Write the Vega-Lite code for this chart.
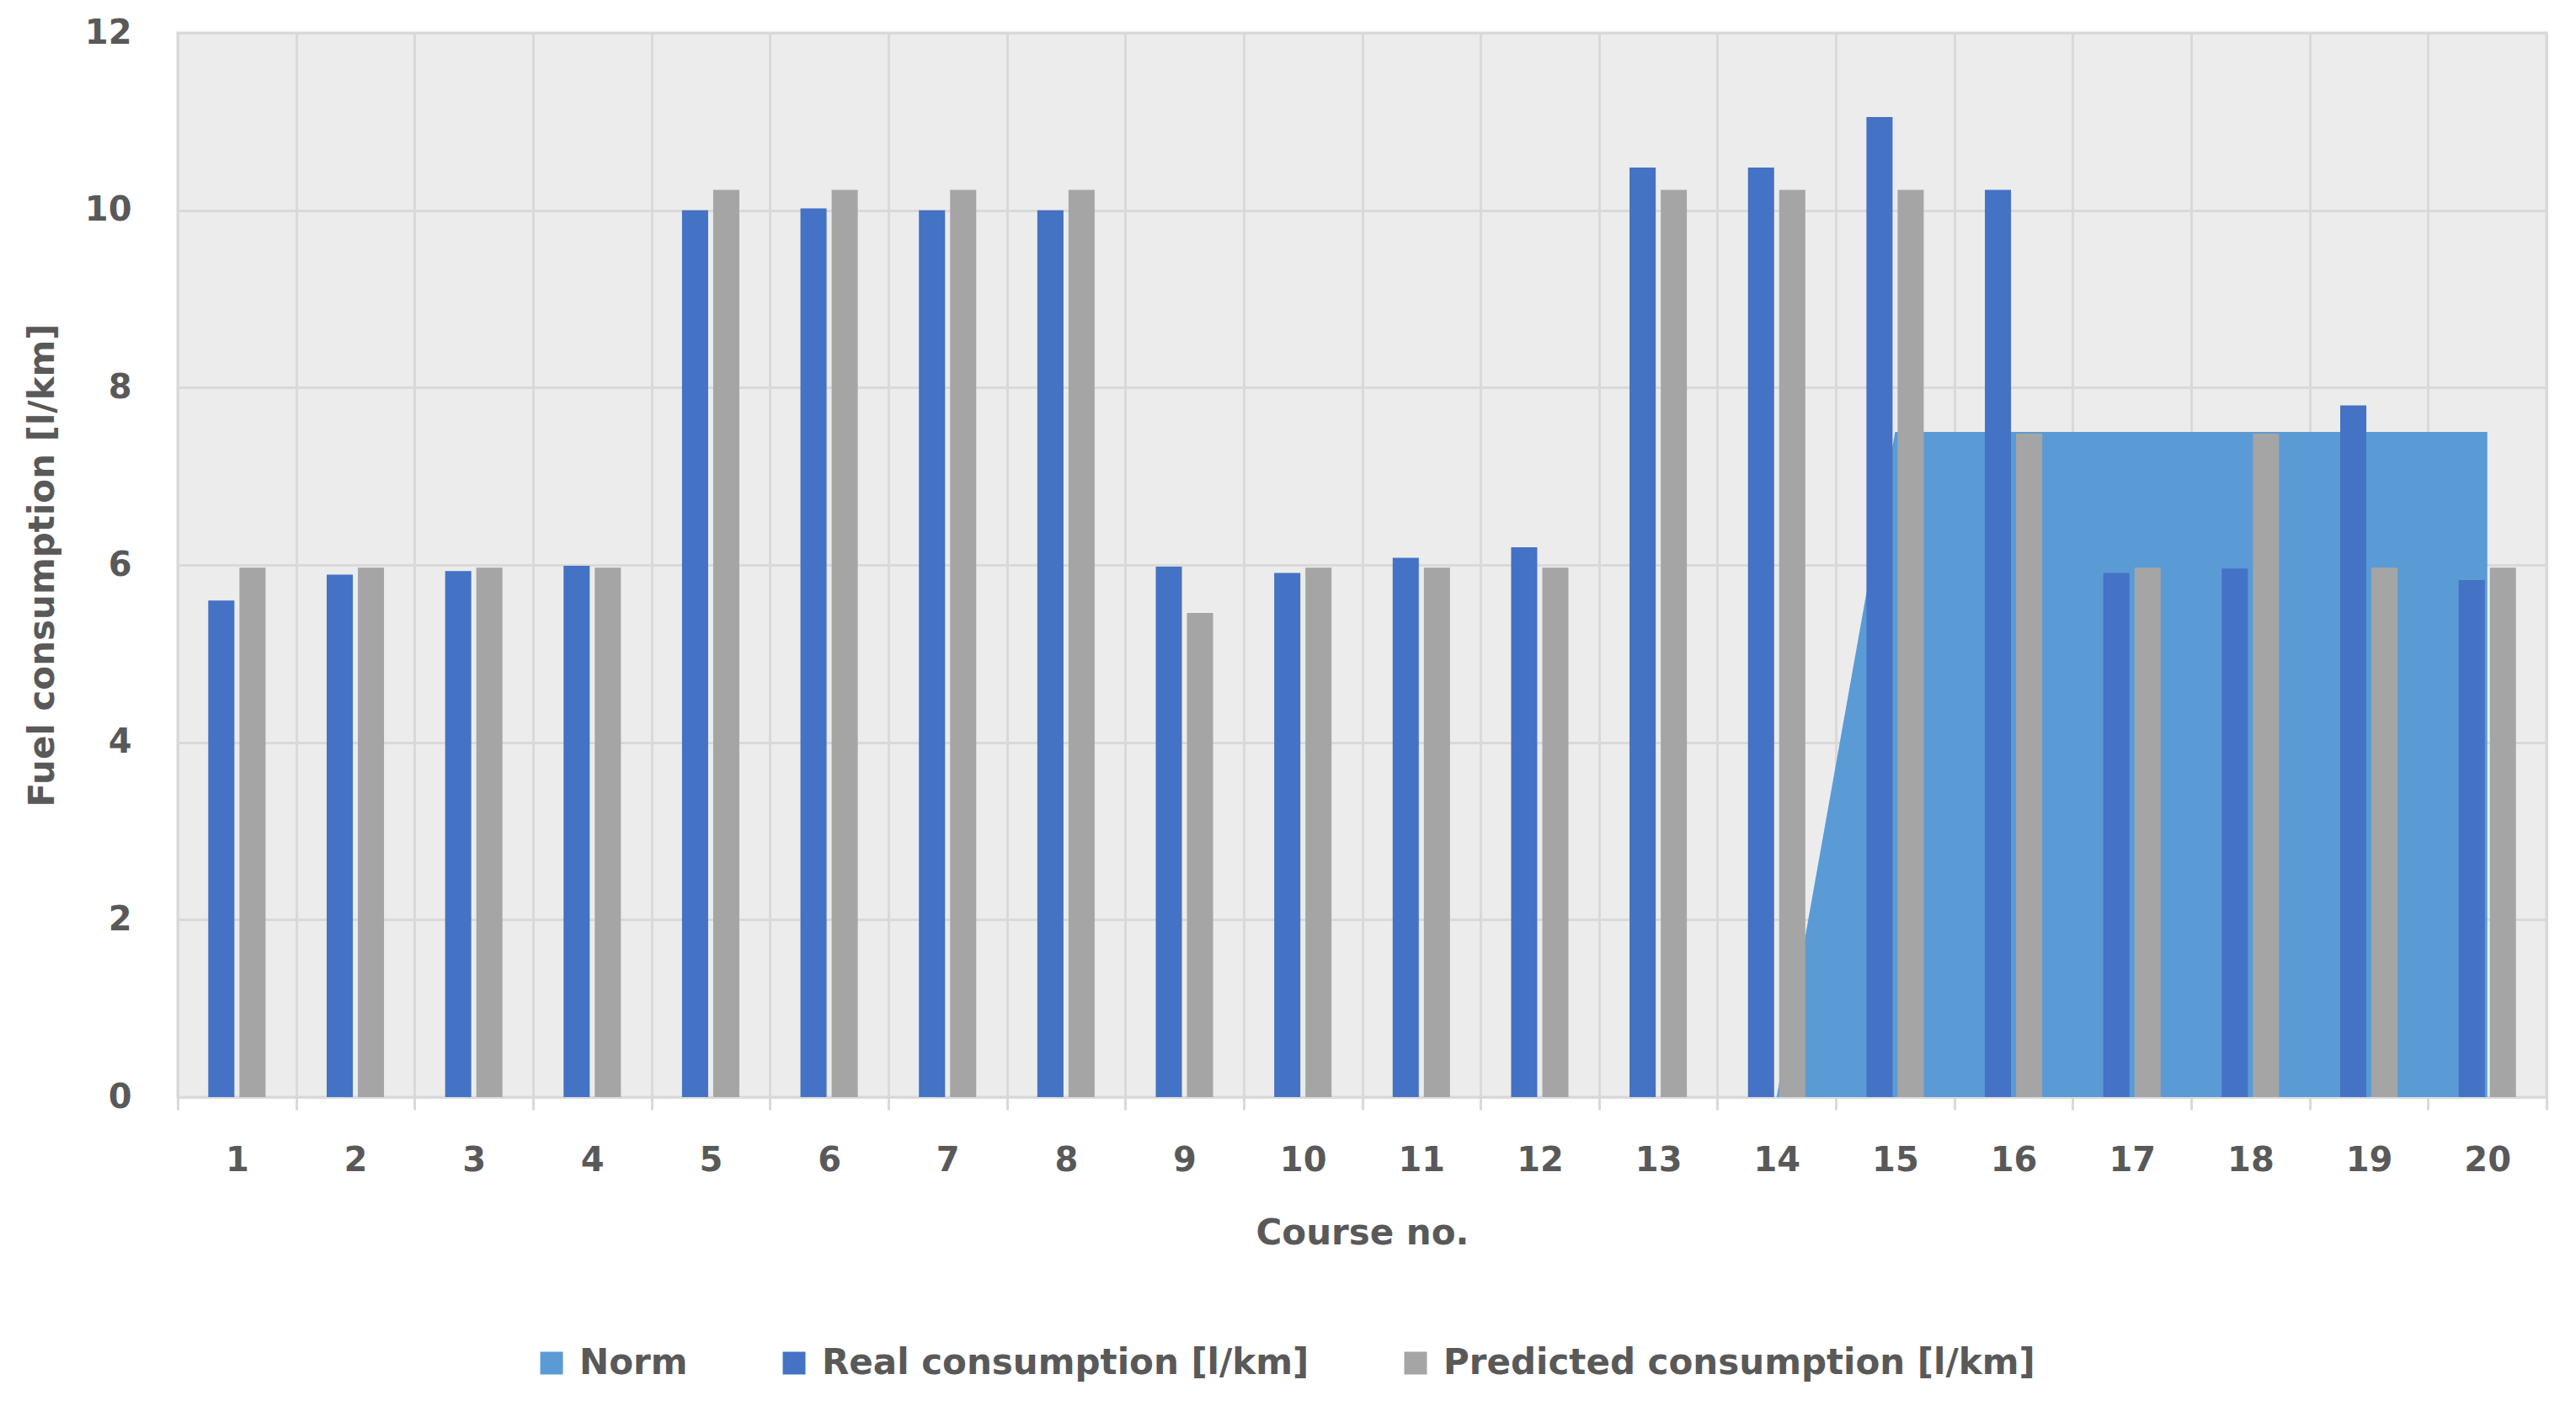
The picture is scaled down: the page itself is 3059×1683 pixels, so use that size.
{
  "$schema": "https://vega.github.io/schema/vega-lite/v6.json",
  "autosize": "none",
  "width": 2813,
  "height": 1264,
  "padding": {"left": 211, "top": 39, "right": 35, "bottom": 380},
  "background": "white",
  "config": {
    "font": "DejaVu Sans",
    "view": {"fill": "#ECECEC", "stroke": "#D9D9D9", "strokeWidth": 3},
    "axis": {
      "labelFont": "DejaVu Sans",
      "labelFontWeight": "bold",
      "labelFontSize": 40,
      "labelColor": "#595959",
      "titleFont": "DejaVu Sans",
      "titleFontWeight": "bold",
      "titleFontSize": 42,
      "titleColor": "#595959",
      "gridColor": "#D9D9D9",
      "gridWidth": 3
    }
  },
  "data": {
    "values": [
      {"course": 1, "series": "Real consumption [l/km]", "value": 5.6},
      {"course": 1, "series": "Predicted consumption [l/km]", "value": 5.97},
      {"course": 2, "series": "Real consumption [l/km]", "value": 5.89},
      {"course": 2, "series": "Predicted consumption [l/km]", "value": 5.97},
      {"course": 3, "series": "Real consumption [l/km]", "value": 5.93},
      {"course": 3, "series": "Predicted consumption [l/km]", "value": 5.97},
      {"course": 4, "series": "Real consumption [l/km]", "value": 5.99},
      {"course": 4, "series": "Predicted consumption [l/km]", "value": 5.97},
      {"course": 5, "series": "Real consumption [l/km]", "value": 10.0},
      {"course": 5, "series": "Predicted consumption [l/km]", "value": 10.23},
      {"course": 6, "series": "Real consumption [l/km]", "value": 10.02},
      {"course": 6, "series": "Predicted consumption [l/km]", "value": 10.23},
      {"course": 7, "series": "Real consumption [l/km]", "value": 10.0},
      {"course": 7, "series": "Predicted consumption [l/km]", "value": 10.23},
      {"course": 8, "series": "Real consumption [l/km]", "value": 10.0},
      {"course": 8, "series": "Predicted consumption [l/km]", "value": 10.23},
      {"course": 9, "series": "Real consumption [l/km]", "value": 5.98},
      {"course": 9, "series": "Predicted consumption [l/km]", "value": 5.46},
      {"course": 10, "series": "Real consumption [l/km]", "value": 5.91},
      {"course": 10, "series": "Predicted consumption [l/km]", "value": 5.97},
      {"course": 11, "series": "Real consumption [l/km]", "value": 6.08},
      {"course": 11, "series": "Predicted consumption [l/km]", "value": 5.97},
      {"course": 12, "series": "Real consumption [l/km]", "value": 6.2},
      {"course": 12, "series": "Predicted consumption [l/km]", "value": 5.97},
      {"course": 13, "series": "Real consumption [l/km]", "value": 10.48},
      {"course": 13, "series": "Predicted consumption [l/km]", "value": 10.23},
      {"course": 14, "series": "Real consumption [l/km]", "value": 10.48},
      {"course": 14, "series": "Predicted consumption [l/km]", "value": 10.23},
      {"course": 15, "series": "Real consumption [l/km]", "value": 11.05},
      {"course": 15, "series": "Predicted consumption [l/km]", "value": 10.23},
      {"course": 16, "series": "Real consumption [l/km]", "value": 10.23},
      {"course": 16, "series": "Predicted consumption [l/km]", "value": 7.48},
      {"course": 17, "series": "Real consumption [l/km]", "value": 5.91},
      {"course": 17, "series": "Predicted consumption [l/km]", "value": 5.97},
      {"course": 18, "series": "Real consumption [l/km]", "value": 5.96},
      {"course": 18, "series": "Predicted consumption [l/km]", "value": 7.48},
      {"course": 19, "series": "Real consumption [l/km]", "value": 7.8},
      {"course": 19, "series": "Predicted consumption [l/km]", "value": 5.97},
      {"course": 20, "series": "Real consumption [l/km]", "value": 5.83},
      {"course": 20, "series": "Predicted consumption [l/km]", "value": 5.97},
      {"course": 14, "series": "Norm", "value": 0},
      {"course": 15, "series": "Norm", "value": 7.5},
      {"course": 16, "series": "Norm", "value": 7.5},
      {"course": 17, "series": "Norm", "value": 7.5},
      {"course": 18, "series": "Norm", "value": 7.5},
      {"course": 19, "series": "Norm", "value": 7.5},
      {"course": 20, "series": "Norm", "value": 7.5}
    ]
  },
  "encoding": {
    "x": {
      "field": "course",
      "type": "ordinal",
      "scale": {"paddingInner": 0, "paddingOuter": 0},
      "axis": {
        "title": "Course no.",
        "labelAngle": 0,
        "tickBand": "extent",
        "grid": true,
        "domainColor": "#D9D9D9",
        "domainWidth": 3,
        "tickColor": "#D9D9D9",
        "tickWidth": 3,
        "tickSize": 15,
        "labelPadding": 40,
        "titlePadding": 46
      }
    },
    "y": {
      "field": "value",
      "type": "quantitative",
      "stack": null,
      "scale": {"domain": [0, 12]},
      "axis": {
        "title": "Fuel consumption [l/km]",
        "values": [0, 2, 4, 6, 8, 10, 12],
        "ticks": false,
        "domain": false,
        "labelPadding": 55,
        "titlePadding": 28
      }
    },
    "color": {
      "field": "series",
      "type": "nominal",
      "scale": {
        "domain": ["Norm", "Real consumption [l/km]", "Predicted consumption [l/km]"],
        "range": ["#5B9BD5", "#4472C4", "#A5A5A5"]
      },
      "legend": {
        "title": null,
        "orient": "none",
        "direction": "horizontal",
        "legendX": 423,
        "legendY": 1559,
        "symbolType": "square",
        "symbolSize": 729,
        "symbolStrokeWidth": 0,
        "symbolOpacity": 1,
        "labelFont": "DejaVu Sans",
        "labelFontWeight": "bold",
        "labelFontSize": 42,
        "labelColor": "#595959",
        "labelLimit": 1000,
        "labelOffset": 12,
        "columnPadding": 105
      }
    }
  },
  "layer": [
    {
      "transform": [{"filter": "datum.series === 'Norm'"}],
      "mark": {"type": "area", "opacity": 1},
      "encoding": {
        "x": {
          "field": "course",
          "type": "ordinal",
          "bandPosition": 0.5,
          "scale": {"paddingInner": 0, "paddingOuter": 0}
        }
      }
    },
    {
      "transform": [{"filter": "datum.series !== 'Norm'"}],
      "mark": {"type": "bar"},
      "encoding": {
        "xOffset": {
          "field": "series",
          "type": "nominal",
          "scale": {
            "domain": ["Real consumption [l/km]", "Predicted consumption [l/km]"],
            "paddingInner": 0.162,
            "paddingOuter": 0.98
          }
        }
      }
    }
  ]
}
